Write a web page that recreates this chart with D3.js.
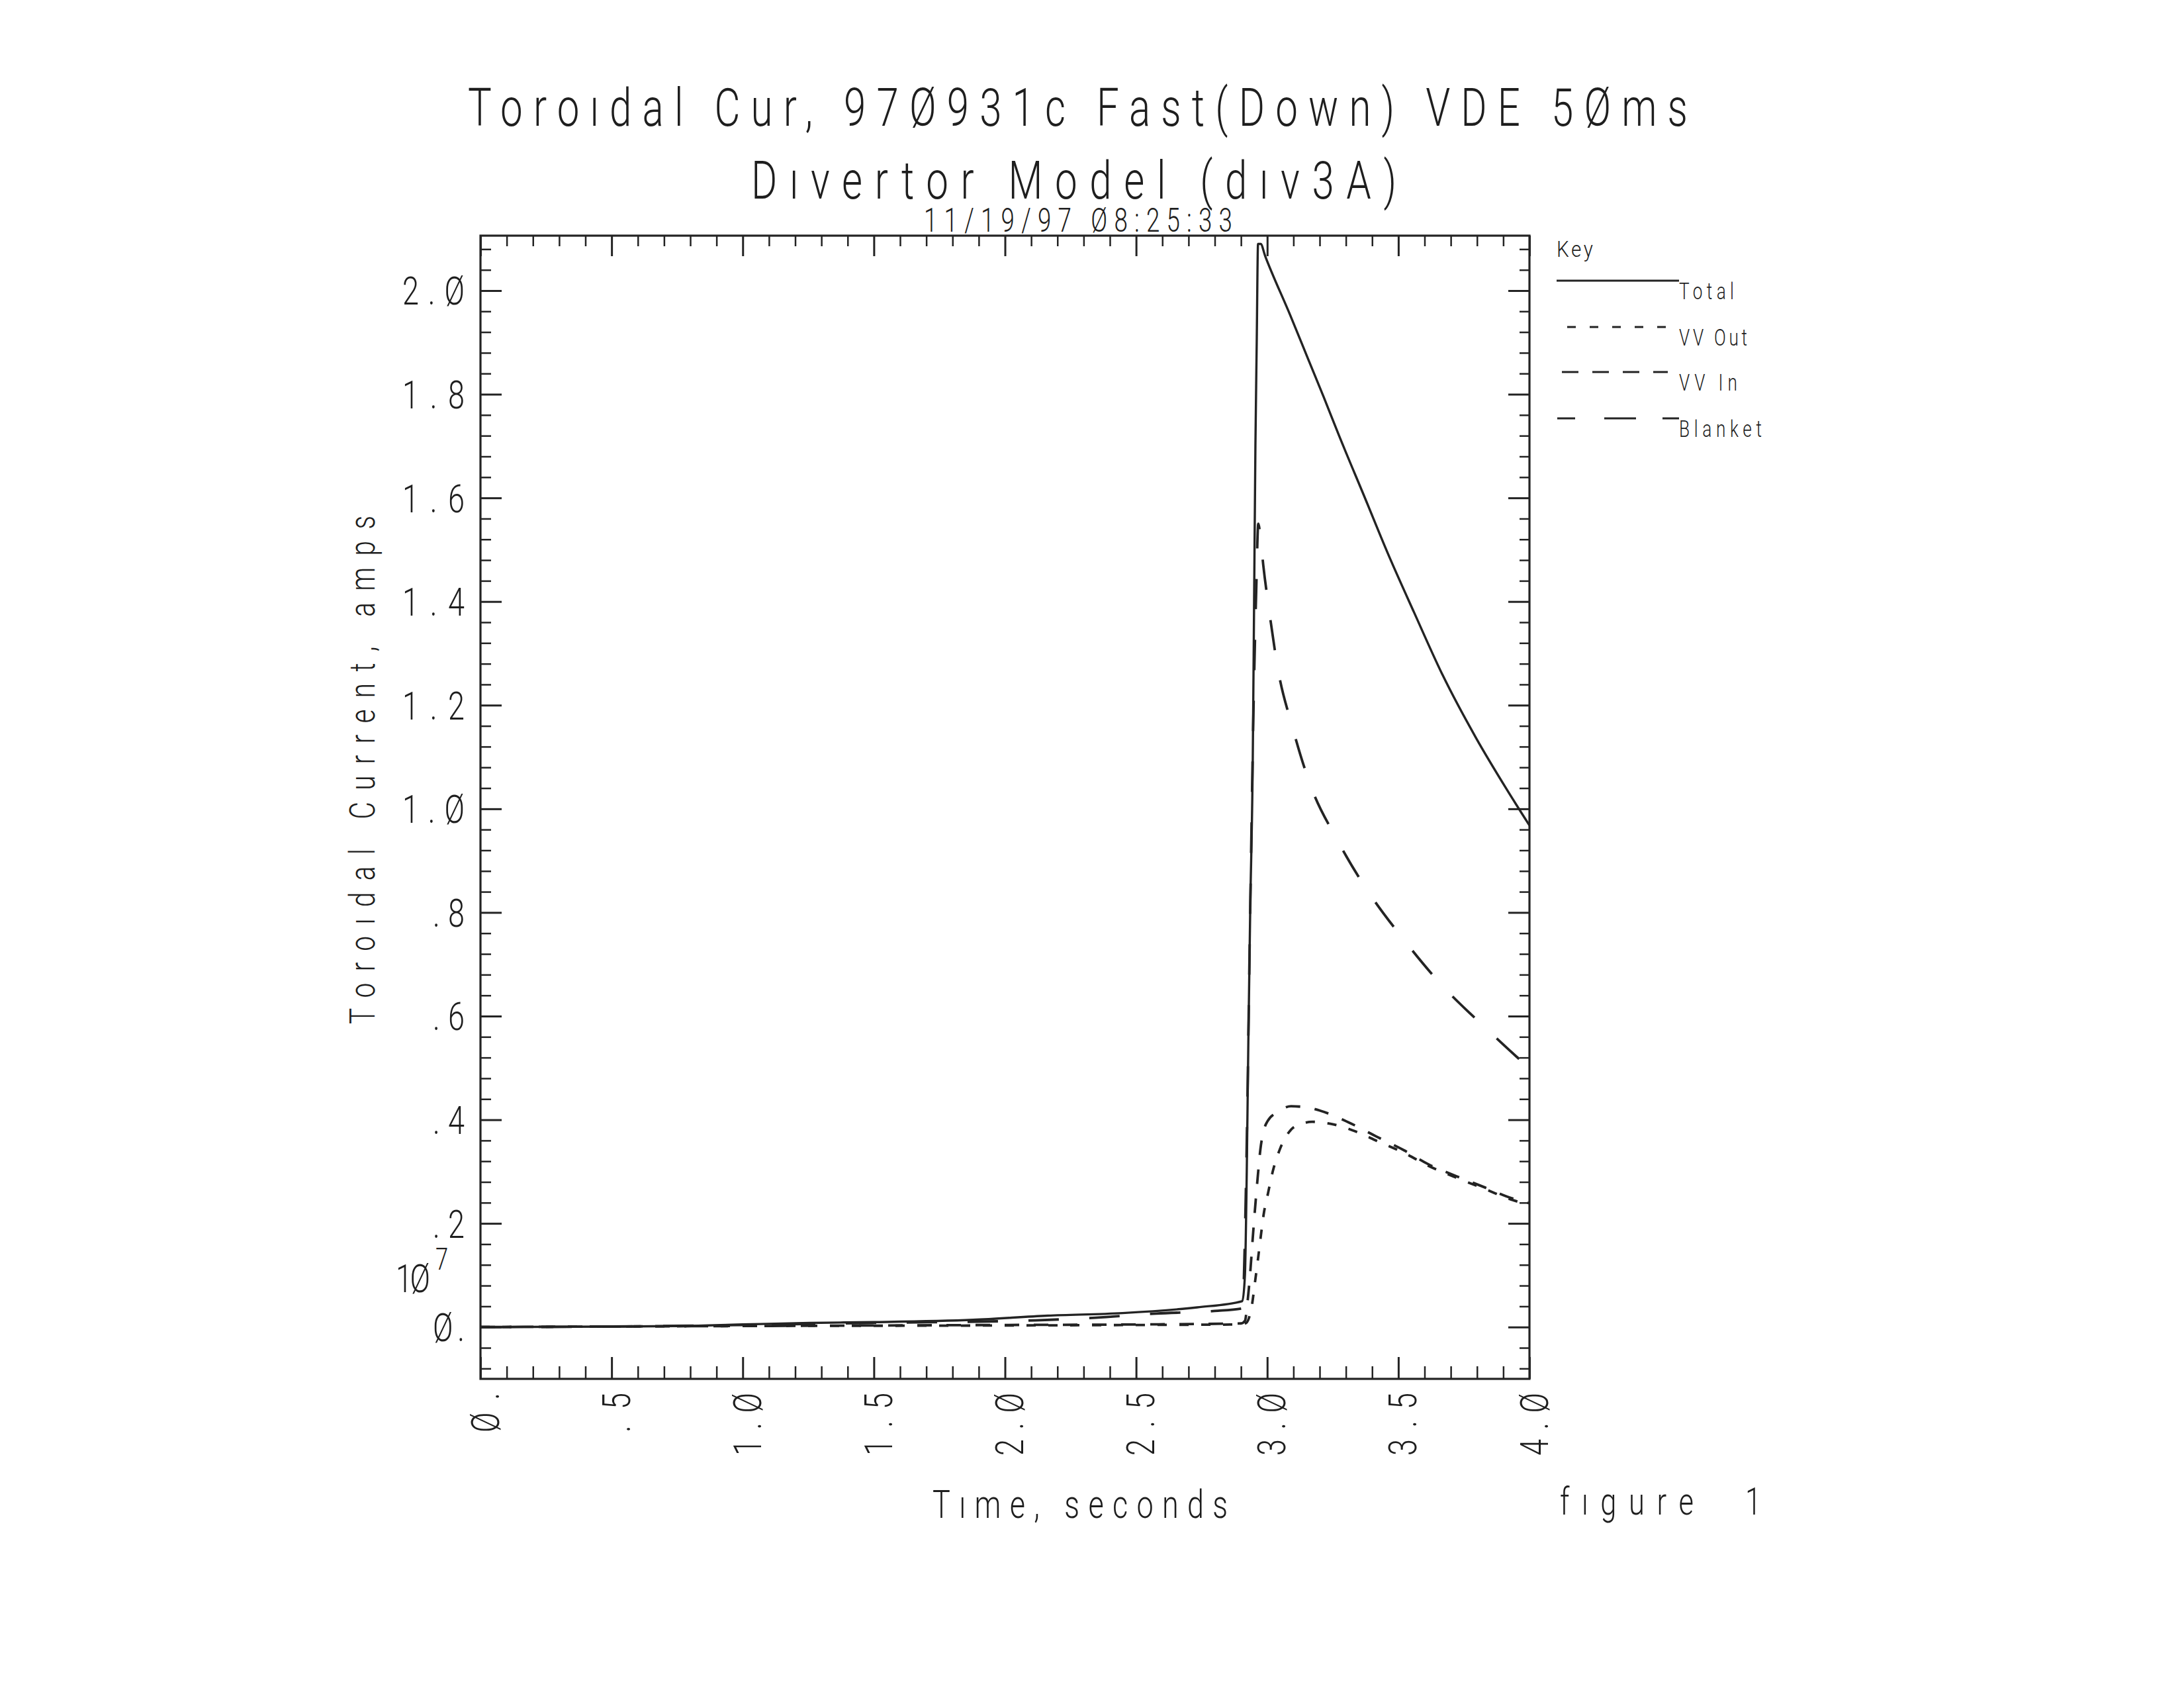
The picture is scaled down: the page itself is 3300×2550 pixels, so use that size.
<!DOCTYPE html>
<html>
<head>
<meta charset="utf-8">
<script src="https://cdn.jsdelivr.net/npm/d3@7"></script>
<style>
  html, body { margin: 0; padding: 0; background: #fff; }
  svg { display: block; }
  text { font-family: Roboto, "DejaVu Sans", sans-serif; font-weight: 300; fill: #1e1e1e; }
</style>
</head>
<body>
<svg id="chart" width="3300" height="2550"></svg>
<script>
// ---------------- DATA (amps x 10^7 vs seconds) ----------------
const titleLine1 = "Toroıdal Cur, 97Ø931c Fast(Down) VDE 5Øms";
const titleLine2 = "Dıvertor Model (dıv3A)";
const dateLine = "11/19/97 Ø8:25:33";
const xAxisTitle = "Tıme, seconds";
const yAxisTitle = "Toroıdal Current, amps";
const figureText = "fıgure";
const figureNum = "1";
const seriesNames = ["Total", "VV Out", "VV In", "Blanket"];

const xTickValues = [0, 0.5, 1.0, 1.5, 2.0, 2.5, 3.0, 3.5, 4.0];
const xTickLabels = ["Ø.", ".5", "1.Ø", "1.5", "2.Ø", "2.5", "3.Ø", "3.5", "4.Ø"];
const yTickValues = [0, 0.2, 0.4, 0.6, 0.8, 1.0, 1.2, 1.4, 1.6, 1.8, 2.0];
const yTickLabels = ["Ø.", ".2", ".4", ".6", ".8", "1.Ø", "1.2", "1.4", "1.6", "1.8", "2.Ø"];

const totalT = [0, 0.5, 0.77, 1.0, 1.255, 1.5, 1.879, 2.163, 2.448, 2.733, 2.905, 2.915, 2.922, 2.928, 2.935, 2.945, 2.95, 2.955, 2.96, 2.965, 2.975, 2.992, 3.089, 3.156, 3.215, 3.274, 3.375, 3.459, 3.56, 3.669, 3.796, 3.914, 4.0];
const totalV = [0, 0.001, 0.002, 0.005, 0.008, 0.0095, 0.014, 0.022, 0.027, 0.038, 0.05, 0.1, 0.3, 0.55, 0.8, 1.1, 1.4, 1.7, 1.9, 2.09, 2.09, 2.067, 1.951, 1.868, 1.795, 1.72, 1.597, 1.494, 1.379, 1.258, 1.137, 1.037, 0.968];

const vvOutT = [0, 1.0, 2.0, 2.5, 2.9, 2.92, 2.932, 2.942, 2.953, 2.964, 2.975, 2.986, 3.003, 3.022, 3.049, 3.091, 3.13, 3.172, 3.253, 3.339, 3.419, 3.522, 3.615, 3.722, 3.832, 3.93, 4.0];
const vvOutV = [0, 0.002, 0.003, 0.004, 0.005, 0.008, 0.02, 0.043, 0.085, 0.128, 0.173, 0.216, 0.258, 0.302, 0.344, 0.381, 0.392, 0.396, 0.391, 0.377, 0.359, 0.336, 0.311, 0.288, 0.266, 0.246, 0.236];

const vvInT = [0, 1.0, 2.0, 2.5, 2.9, 2.915, 2.925, 2.936, 2.944, 2.953, 2.963, 2.974, 2.99, 3.001, 3.04, 3.091, 3.15, 3.205, 3.31, 3.415, 3.522, 3.615, 3.722, 3.832, 3.93, 4.0];
const vvInV = [0, 0.002, 0.004, 0.005, 0.007, 0.012, 0.049, 0.11, 0.166, 0.225, 0.285, 0.343, 0.385, 0.397, 0.415, 0.426, 0.424, 0.417, 0.395, 0.368, 0.341, 0.314, 0.291, 0.269, 0.249, 0.239];

const blanketT = [0, 0.5, 1.0, 1.5, 2.116, 2.345, 2.578, 2.8, 2.905, 2.92, 2.935, 2.948, 2.958, 2.966, 2.975, 2.985, 3.006, 3.04, 3.096, 3.163, 3.267, 3.384, 3.52, 3.667, 3.833, 3.977, 4.0];
const blanketV = [0, 0.001, 0.004, 0.008, 0.013, 0.018, 0.026, 0.031, 0.036, 0.3, 0.8, 1.2, 1.42, 1.55, 1.52, 1.47, 1.388, 1.272, 1.158, 1.048, 0.94, 0.841, 0.748, 0.659, 0.577, 0.51, 0.50];

// ---------------- LAYOUT ----------------
const svg = d3.select("#chart");
svg.append("rect").attr("width", 3300).attr("height", 2550).attr("fill", "#fff");

const L = 726, R = 2311, T = 356, B = 2083;
const x = d3.scaleLinear().domain([0, 4]).range([L, R]);
const y = d3.scaleLinear().domain([-0.1, 2.106]).range([B, T]);
const ink = "#232323";
const SX = 0.75;

function label(str, px, py, size, len, anchor, rot, sx, weight) {
  sx = sx || SX;
  const t = svg.append("text")
    .attr("transform", `translate(${px},${py}) rotate(${rot || 0}) scale(${sx},1)`)
    .attr("font-size", size)
    .attr("text-anchor", anchor || "start")
    .text(str);
  if (weight) t.style("font-weight", weight);
  if (len) t.attr("textLength", len / sx).attr("lengthAdjust", "spacing");
  return t;
}

// Titles
label(titleLine1, 707, 190, 80, 1843);
label(titleLine2, 1135, 300, 80, 975);
label(dateLine, 1396, 350, 49, 466);

// Axes ticks (inward on all four sides)
const yMinor = d3.range(-0.08, 2.1, 0.04).filter(v => Math.abs(v / 0.2 - Math.round(v / 0.2)) > 0.01);
const xMinor = d3.range(0.1, 4.0, 0.1).filter(v => Math.abs(v / 0.5 - Math.round(v / 0.5)) > 0.01);

function styleAxis(g, w) {
  g.select(".domain").remove();
  g.selectAll(".tick line").attr("stroke", ink).attr("stroke-width", w);
  g.selectAll(".tick text").remove();
}
svg.append("g").attr("transform", `translate(${L},0)`)
  .call(d3.axisLeft(y).tickValues(yTickValues).tickSizeInner(-32).tickSizeOuter(0).tickFormat(""))
  .call(g => styleAxis(g, 3));
svg.append("g").attr("transform", `translate(${L},0)`)
  .call(d3.axisLeft(y).tickValues(yMinor).tickSizeInner(-16).tickSizeOuter(0).tickFormat(""))
  .call(g => styleAxis(g, 2.5));
svg.append("g").attr("transform", `translate(${R},0)`)
  .call(d3.axisRight(y).tickValues(yTickValues).tickSizeInner(-32).tickSizeOuter(0).tickFormat(""))
  .call(g => styleAxis(g, 3));
svg.append("g").attr("transform", `translate(${R},0)`)
  .call(d3.axisRight(y).tickValues(yMinor).tickSizeInner(-15).tickSizeOuter(0).tickFormat(""))
  .call(g => styleAxis(g, 2.5));
svg.append("g").attr("transform", `translate(0,${B})`)
  .call(d3.axisBottom(x).tickValues(xTickValues).tickSizeInner(-33).tickSizeOuter(0).tickFormat(""))
  .call(g => styleAxis(g, 3));
svg.append("g").attr("transform", `translate(0,${B})`)
  .call(d3.axisBottom(x).tickValues(xMinor).tickSizeInner(-19).tickSizeOuter(0).tickFormat(""))
  .call(g => styleAxis(g, 2.5));
svg.append("g").attr("transform", `translate(0,${T})`)
  .call(d3.axisTop(x).tickValues(xTickValues).tickSizeInner(-31).tickSizeOuter(0).tickFormat(""))
  .call(g => styleAxis(g, 3));
svg.append("g").attr("transform", `translate(0,${T})`)
  .call(d3.axisTop(x).tickValues(xMinor).tickSizeInner(-16).tickSizeOuter(0).tickFormat(""))
  .call(g => styleAxis(g, 2.5));

// Frame
svg.append("rect").attr("x", L).attr("y", T).attr("width", R - L).attr("height", B - T)
  .attr("fill", "none").attr("stroke", ink).attr("stroke-width", 3.2);

// Y tick labels
yTickValues.forEach((v, i) => {
  const s = yTickLabels[i];
  label(s, 702, y(v) + 21.5, 60, s.length === 3 ? 94 : 48, "end");
});
// exponent marker
label("1Ø", 598, 1952, 60, 52);
label("7", 658, 1918, 46, null);

// X tick labels (rotated, reading bottom to top)
xTickValues.forEach((v, i) => {
  const s = xTickLabels[i];
  label(s, x(v) + 27.5, 2104, 60, s.length === 3 ? 95 : 60, "end", -90);
});

// Axis titles
label(yAxisTitle, 566, 1163, 54, 768, "middle", -90);
label(xAxisTitle, 1409, 2293, 60, 446);
label(figureText, 2357, 2288, 58, 202);
label(figureNum, 2649, 2288, 58, null, "middle");

// ---------------- SERIES ----------------
const line = d3.line().x(d => x(d[0])).y(d => y(d[1])).curve(d3.curveMonotoneX);
const zip = (ts, vs) => ts.map((t, i) => [t, vs[i]]);
const series = [
  { name: seriesNames[0], data: zip(totalT, totalV), dash: null, w: 3.4 },
  { name: seriesNames[1], data: zip(vvOutT, vvOutV), dash: "14,19", w: 3.8 },
  { name: seriesNames[2], data: zip(vvInT, vvInV), dash: "22,22", w: 3.8 },
  { name: seriesNames[3], data: zip(blanketT, blanketV), dash: "46,46", w: 3.8 }
];
svg.append("clipPath").attr("id", "plotclip")
  .append("rect").attr("x", L).attr("y", T - 2).attr("width", R - L).attr("height", B - T + 2);
svg.append("g").attr("clip-path", "url(#plotclip)")
  .selectAll("path").data(series).join("path")
  .attr("d", d => line(d.data))
  .attr("fill", "none")
  .attr("stroke", ink)
  .attr("stroke-width", d => d.w)
  .attr("stroke-dasharray", d => d.dash)
  .attr("stroke-linejoin", "round");

// ---------------- LEGEND ----------------
label("Key", 2352, 388, 33, 55, "start", 0, 0.9, 300);
const legendRows = [
  { y: 424, x1: 2352, x2: 2537, dash: null, len: 83 },
  { y: 494, x1: 2368, x2: 2518, dash: "13,21", len: 103 },
  { y: 562, x1: 2360, x2: 2520, dash: "25,21", len: 88 },
  { y: 632, x1: 2353, x2: 2537, dash: "27,44,48,40,25", len: 125 }
];
legendRows.forEach((r, i) => {
  svg.append("line").attr("x1", r.x1).attr("x2", r.x2).attr("y1", r.y).attr("y2", r.y)
    .attr("stroke", ink).attr("stroke-width", 3).attr("stroke-dasharray", r.dash);
  label(seriesNames[i], 2537, r.y + 28, 35, r.len);
});
</script>
</body>
</html>
